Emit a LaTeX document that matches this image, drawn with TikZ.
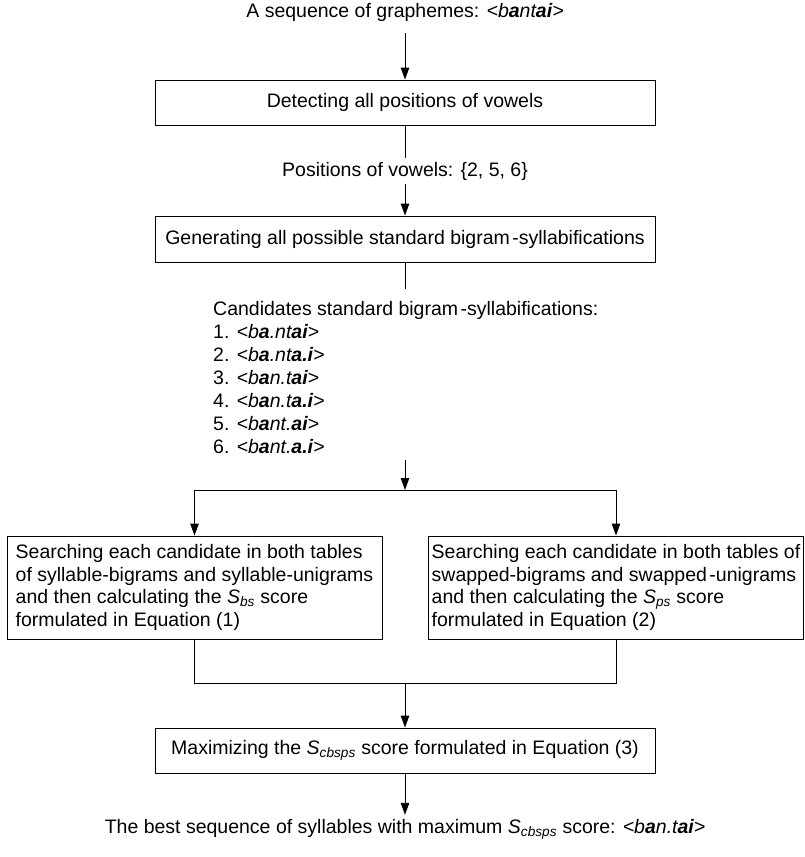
\documentclass[tikz,border=0pt]{standalone}
\usepackage{fontspec}
\setmainfont{Liberation Sans}
\usetikzlibrary{arrows.meta}

% vowels are set in bold inside the italic grapheme strings
\newcommand\vow[1]{\textbf{#1}}
% italic score symbol with its subscript
\newcommand\score[1]{\textit{S\textsubscript{#1}}}
% loose hyphen as set in the original word processor output
\newcommand\lhy{\kern2.5pt-}

\begin{document}
\begin{tikzpicture}[x=1pt,y=-1pt,
  every node/.style={font=\fontsize{19.5}{22.5}\selectfont, text=black},
  flow/.style={draw=black, line width=0.9pt},
  arr/.style={flow, -{Triangle[length=12pt,width=8.5pt]}},
  stepbox/.style={draw=black, line width=0.9pt, minimum width=500pt,
                  minimum height=45pt, inner sep=0pt},
  sidebox/.style={draw=black, line width=0.9pt, minimum height=103pt,
                  align=left, inner xsep=3pt, inner ysep=4pt},
  freetext/.style={inner xsep=0pt, inner ysep=0pt, text height=14pt,
                   text depth=4pt, minimum height=26pt}
]
\useasboundingbox (0,0) rectangle (804,857);

% input
\node[freetext] (seq) at (405,12)
  {A sequence of graphemes: \textit{<b\vow{a}nt\vow{ai}>}};

% step 1
\node[stepbox] (detect) at (405,102.5) {Detecting all positions of vowels};
\node[freetext] (pos) at (405,171) {Positions of vowels: \{2, 5, 6\}};

% step 2
\node[stepbox, minimum height=46pt] (gen) at (405,239)
  {Generating all possible standard bigram\lhy syllabifications};

% list of candidates
\node[anchor=north west, align=left, inner xsep=0pt, inner ysep=6pt,
      font=\fontsize{19.5}{23}\selectfont] (cand) at (213,295)
  {Candidates standard bigram\lhy syllabifications:\\
   1. \textit{<b\vow{a}.nt\vow{ai}>}\\
   2. \textit{<b\vow{a}.nt\vow{a.i}>}\\
   3. \textit{<b\vow{a}n.t\vow{ai}>}\\
   4. \textit{<b\vow{a}n.t\vow{a.i}>}\\
   5. \textit{<b\vow{a}nt.\vow{ai}>}\\
   6. \textit{<b\vow{a}nt.\vow{a.i}>}};

% two scoring branches
\coordinate (split) at (405,490);
\node[sidebox, minimum width=375pt] (bs) at (194.5,587.5)
  {Searching each candidate in both tables\\
   of syllable-bigrams and syllable-unigrams\\
   and then calculating the \score{bs} score\\
   formulated in Equation (1)};
\node[sidebox, minimum width=374pt] (ps) at (616,587.5)
  {Searching each candidate in both tables of\\
   swapped-bigrams and swapped\lhy unigrams\\
   and then calculating the \score{ps} score\\
   formulated in Equation (2)};
\coordinate (join) at (405,683);

% combination
\node[stepbox] (max) at (405,750.5)
  {Maximizing the \score{cbsps} score formulated in Equation (3)};

% output
\node[freetext] (best) at (405,828)
  {The best sequence of syllables with maximum \score{cbsps} score: \textit{<b\vow{a}n.t\vow{ai}>}};

% connectors
\draw[arr, shorten <=8pt] (seq.south) -- (detect.north);
\draw[flow] (detect.south) -- (pos.north);
\draw[arr] (pos.south) -- (gen.north);
\draw[flow, shorten >=6pt] (gen.south) -- (gen.south |- cand.north);
\draw[arr] (gen.south |- cand.south) -- (split);
\draw[flow] (split -| bs.north) -- (split -| ps.north);
\draw[arr] (split -| bs.north) -- (bs.north);
\draw[arr] (split -| ps.north) -- (ps.north);
\draw[flow] (bs.south) -- (bs.south |- join) -- (ps.south |- join) -- (ps.south);
\draw[arr] (join) -- (max.north);
\draw[arr] (max.south) -- (best.north);
\end{tikzpicture}
\end{document}
